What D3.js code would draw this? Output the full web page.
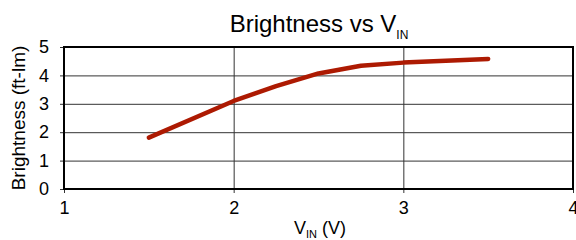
<!DOCTYPE html>
<html>
<head>
<meta charset="utf-8">
<script src="https://cdn.jsdelivr.net/npm/d3@7"></script>
<style>
  body { margin: 0; background: #fff; }
  text { font-family: "Liberation Sans", Arial, sans-serif; fill: #000; }
</style>
</head>
<body>
<svg id="chart"></svg>
<script>
// Data arrays
const vin = [1.5, 2.0, 2.25, 2.5, 2.75, 3.0, 3.25, 3.5];
const brightness = [1.81, 3.1, 3.62, 4.07, 4.34, 4.45, 4.52, 4.58];
const xTicks = [1, 2, 3, 4];
const yTicks = [0, 1, 2, 3, 4, 5];

const W = 576, H = 240;
const margin = { top: 47, right: 3, bottom: 51, left: 64 };
const width = W - margin.left - margin.right;
const height = H - margin.top - margin.bottom;

const svg = d3.select("#chart")
    .attr("width", W)
    .attr("height", H);

const g = svg.append("g")
    .attr("transform", `translate(${margin.left},${margin.top})`);

const x = d3.scaleLinear().domain([1, 4]).range([0, width]);
const y = d3.scaleLinear().domain([0, 5]).range([height, 0]);

// vertical grid lines, with a short tick below the axis
g.append("g")
    .call(d3.axisBottom(x).tickValues(xTicks).tickSize(0).tickFormat(""))
    .call(a => a.select(".domain").remove())
    .call(a => a.selectAll("line")
        .attr("y1", 0).attr("y2", height + 4)
        .attr("stroke", "#333").attr("stroke-width", 1));

// horizontal grid lines, with a short tick left of the axis
g.append("g")
    .call(d3.axisLeft(y).tickValues(yTicks).tickSize(0).tickFormat(""))
    .call(a => a.select(".domain").remove())
    .call(a => a.selectAll("line")
        .attr("x1", -4).attr("x2", width)
        .attr("stroke", "#333").attr("stroke-width", 1));

// tick labels
g.append("g")
    .attr("transform", `translate(0,${height})`)
    .call(d3.axisBottom(x).tickValues(xTicks).tickSize(0).tickPadding(0).tickFormat(d3.format("d")))
    .call(a => a.select(".domain").remove())
    .selectAll("text")
    .attr("y", 12)
    .attr("dy", "0.71em")
    .style("font-size", "18px")
    .style("font-family", "Liberation Sans, Arial, sans-serif");

g.append("g")
    .call(d3.axisLeft(y).tickValues(yTicks).tickSize(0).tickPadding(0).tickFormat(d3.format("d")))
    .call(a => a.select(".domain").remove())
    .selectAll("text")
    .attr("x", -15)
    .style("font-size", "18px")
    .style("font-family", "Liberation Sans, Arial, sans-serif");

// plot border
g.append("rect")
    .attr("width", width)
    .attr("height", height)
    .attr("fill", "none")
    .attr("stroke", "#000")
    .attr("stroke-width", 2);

// the curve
const line = d3.line()
    .x((d, i) => x(vin[i]))
    .y(d => y(d));

g.append("path")
    .datum(brightness)
    .attr("d", line)
    .attr("fill", "none")
    .attr("stroke", "#ad1a02")
    .attr("stroke-width", 4.5)
    .attr("stroke-linecap", "round")
    .attr("stroke-linejoin", "round");

// title
const title = svg.append("text")
    .attr("x", 319)
    .attr("y", 32)
    .attr("text-anchor", "middle")
    .style("font-size", "24px");
title.append("tspan").text("Brightness vs V");
title.append("tspan").attr("dy", 7).style("font-size", "12px").text("IN");

// x axis label
const xl = svg.append("text")
    .attr("x", 320)
    .attr("y", 234)
    .attr("text-anchor", "middle")
    .style("font-size", "18px");
xl.append("tspan").text("V");
xl.append("tspan").attr("dy", 4).style("font-size", "11px").text("IN");
xl.append("tspan").attr("dy", -4).text(" (V)");

// y axis label
svg.append("text")
    .attr("transform", `translate(25,${margin.top + height / 2}) rotate(-90)`)
    .attr("text-anchor", "middle")
    .style("font-size", "19px")
    .text("Brightness (ft-lm)");
</script>
</body>
</html>
